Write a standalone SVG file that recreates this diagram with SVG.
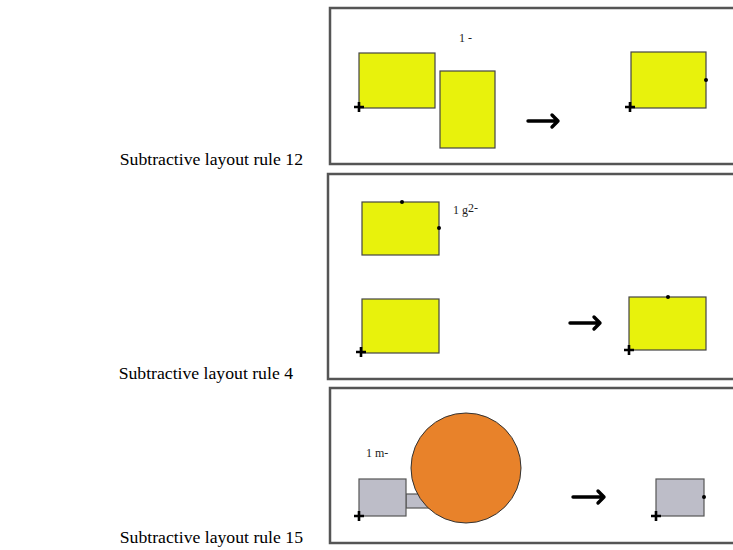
<svg xmlns="http://www.w3.org/2000/svg" width="733" height="550" viewBox="0 0 733 550">
<defs>
<style>
.frame{fill:#fff;stroke:#555;stroke-width:2.5}
.yel{fill:#e8f20c;stroke:#444;stroke-width:1.2}
.gry{fill:#bdbdc8;stroke:#555;stroke-width:1.2}
.org{fill:#e8822a;stroke:#333;stroke-width:1}
.lbl{font-family:"Liberation Serif","Times New Roman",serif;font-size:17.7px;fill:#000}
.sm{font-family:"Liberation Serif","Times New Roman",serif;font-size:12px;fill:#222}
.plus{stroke:#000;stroke-width:2.6;fill:none}
.dot{fill:#000}
.arr{stroke:#000;stroke-width:3.4;fill:none;stroke-linecap:round;stroke-linejoin:round}
</style>
<g id="plus"><path class="plus" d="M-5 0H5M0 -5V5"/></g>
</defs>
<rect width="733" height="550" fill="#fff"/>

<text class="lbl" x="303" y="165" text-anchor="end">Subtractive layout rule 12</text>
<text class="lbl" x="293" y="379" text-anchor="end">Subtractive layout rule 4</text>
<text class="lbl" x="303" y="543" text-anchor="end">Subtractive layout rule 15</text>

<g id="panel1">
<rect class="frame" x="330" y="8" width="420" height="156"/>
<text class="sm" x="459" y="42">1 -</text>
<g id="p1-a"><rect class="yel" x="359" y="53" width="76" height="55"/><use href="#plus" x="359" y="107"/></g>
<g id="p1-b"><rect class="yel" x="440" y="71" width="55" height="77"/></g>
<g id="p1-c"><rect class="yel" x="631" y="52" width="75" height="56"/><circle class="dot" cx="706" cy="80" r="2"/><use href="#plus" x="630" y="107"/></g>
</g>

<g id="panel2">
<rect class="frame" x="328" y="174" width="420" height="205"/>
<text class="sm" x="453" y="214">1 g<tspan dy="-2">2-</tspan></text>
<g id="p2-a"><rect class="yel" x="362" y="202" width="77" height="53"/><circle class="dot" cx="402" cy="202" r="2"/><circle class="dot" cx="439" cy="228" r="2"/></g>
<g id="p2-b"><rect class="yel" x="362" y="299" width="77" height="54"/><use href="#plus" x="361" y="352"/></g>
<g id="p2-c"><rect class="yel" x="629" y="297" width="77" height="53"/><circle class="dot" cx="668" cy="297" r="2"/><use href="#plus" x="629" y="350"/></g>
</g>

<g id="panel3">
<rect class="frame" x="330" y="388" width="420" height="155"/>
<text class="sm" x="366" y="457">1 m-</text>
<g id="p3-a"><rect class="gry" x="406" y="494" width="24" height="14"/><rect class="gry" x="359" y="479" width="47" height="37"/><use href="#plus" x="359" y="516"/></g>
<g id="p3-b"><circle class="org" cx="466" cy="468" r="55"/></g>
<g id="p3-c"><rect class="gry" x="656" y="479" width="48" height="37"/><circle class="dot" cx="704" cy="497" r="2"/><use href="#plus" x="656" y="516"/></g>
</g>

<g id="arrows">
<path class="arr" d="M528 121H558M552 115L558 121L552 127"/>
<path class="arr" d="M570 323H600M594 317L600 323L594 329"/>
<path class="arr" d="M573 497H604M598 491L604 497L598 503"/>
</g>
</svg>
